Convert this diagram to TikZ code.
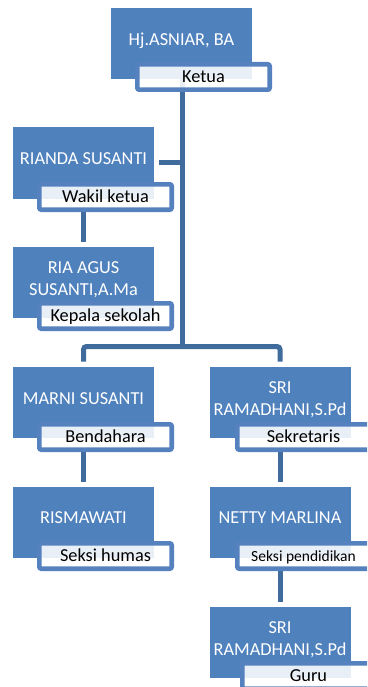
\documentclass[tikz,border=0pt]{standalone}
\usepackage{fontspec}
\setmainfont{Carlito}
\definecolor{boxblue}{HTML}{4F81BD}
\definecolor{linkblue}{HTML}{3F6C9C}
\definecolor{labelblue}{HTML}{5582BE}
\begin{document}
\begin{tikzpicture}[x=1pt,y=-1pt,
  unitbox/.style={fill=boxblue, minimum width=141pt, minimum height=71pt, inner sep=0pt, outer sep=0pt},
  nametext/.style={text=white, align=center, font=\fontsize{18.3}{22}\selectfont, inner sep=0pt},
  nameone/.style={nametext, text height=11.8pt, text depth=0pt},
  rolebox/.style={draw=labelblue, line width=4.6pt, rounded corners=2pt, fill=white, fill opacity=0.88, text opacity=1, minimum width=132.4pt, minimum height=25.4pt, inner sep=0pt, outer sep=0pt, text height=11.8pt, text depth=0pt, font=\fontsize{18.3}{22}\selectfont},
  link/.style={draw=linkblue, line width=5pt, rounded corners=3pt}
]
\useasboundingbox (0,0) rectangle (367,687);
\clip (0,0) rectangle (367,687);

% boxes
\node[unitbox] (top) at (181.5,43.5) {};
\node[unitbox] (rianda) at (83.5,163) {};
\node[unitbox] (ria) at (83.5,282) {};
\node[unitbox] (marni) at (83.5,402) {};
\node[unitbox] (sri1) at (280,402) {};
\node[unitbox] (risma) at (83.5,522.5) {};
\node[unitbox] (netty) at (280,522.5) {};
\node[unitbox] (sri2) at (280,642) {};

% names
\node[nameone] (ntop) at (181.5,40) {Hj.ASNIAR, BA};
\node[nameone] (nrianda) at (83.5,159) {RIANDA SUSANTI};
\node[nametext] (nria) at (83.5,280) {RIA AGUS\\SUSANTI,A.Ma};
\node[nameone] (nmarni) at (83.5,399) {MARNI SUSANTI};
\node[nametext] (nsri1) at (280,399.5) {SRI\\RAMADHANI,S.Pd};
\node[nameone] (nrisma) at (83.5,518) {RISMAWATI};
\node[nameone] (nnetty) at (280,518) {NETTY MARLINA};
\node[nametext] (nsri2) at (280,639.5) {SRI\\RAMADHANI,S.Pd};

% connectors
\coordinate (trunk) at (182,346.5);
\draw[link] (trunk |- top.south) -- (trunk);
\draw[link] ([xshift=5pt]rianda.east) -- (trunk |- rianda.east);
\draw[link] (rianda.center |- 0,212) -- ([yshift=5pt]ria.north);
\draw[link] ([yshift=5pt]marni.north) -- (marni.north |- trunk) -- (sri1.north |- trunk) -- ([yshift=5pt]sri1.north);
\draw[link] (marni.center |- 0,450) -- ([yshift=5pt]risma.north);
\draw[link] (sri1.center |- 0,450) -- ([yshift=5pt]netty.north);
\draw[link] (sri1.center |- 0,569) -- ([yshift=5pt]sri2.north);

% role labels
\node[rolebox] (ketua) at (203.5,77) {Ketua};
\node[rolebox] (wakil) at (105.5,197) {Wakil ketua};
\node[rolebox] (kepsek) at (105.5,316) {Kepala sekolah};
\node[rolebox] (bendahara) at (105.5,437) {Bendahara};
\node[rolebox] (sekretaris) at (303.5,437) {Sekretaris};
\node[rolebox] (humas) at (105.5,556) {Seksi humas};
\node[rolebox, font=\fontsize{15.5}{18}\selectfont, text height=10pt] (pendidikan) at (303.5,556) {Seksi pendidikan};
\node[rolebox] (guru) at (308.5,676) {Guru};
\end{tikzpicture}
\end{document}
